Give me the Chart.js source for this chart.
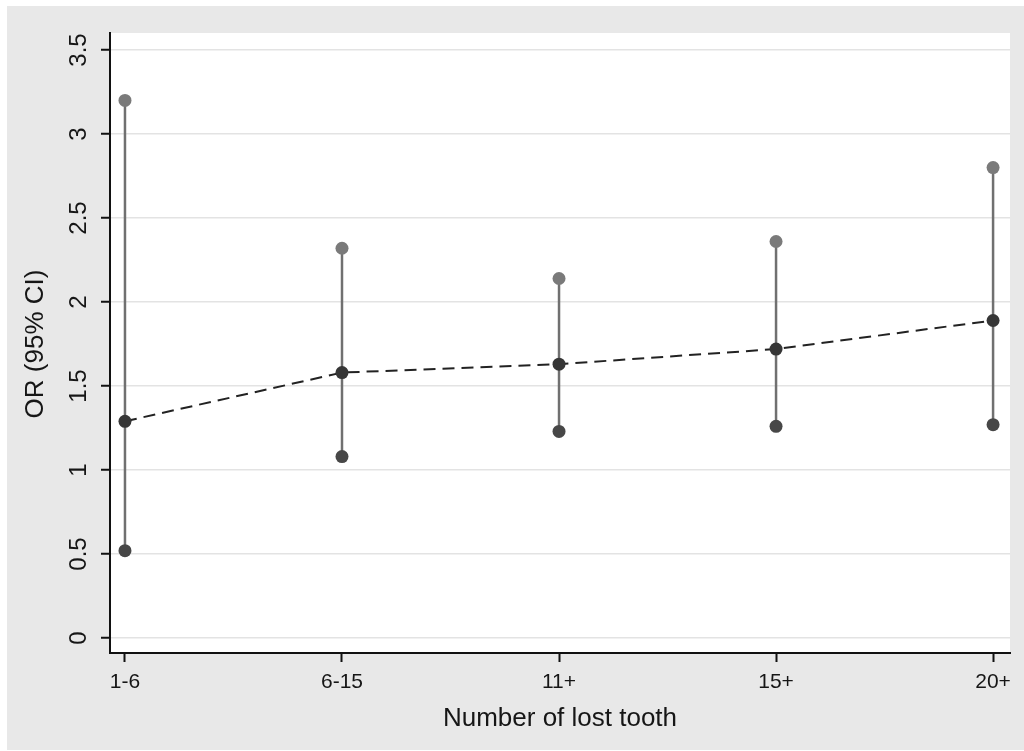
<!DOCTYPE html>
<html>
<head>
<meta charset="utf-8">
<script src="https://cdn.jsdelivr.net/npm/chart.js@4.4.1/dist/chart.umd.min.js"></script>
<style>
  html, body { margin: 0; padding: 0; background: #ffffff; }
  #wrap { width: 1024px; height: 751px; position: relative; }
</style>
</head>
<body>
<div id="wrap"><canvas id="orChart" width="1024" height="751"></canvas></div>
<script>
// --- data ---
const categories = ["1-6", "6-15", "11+", "15+", "20+"];
const oddsRatio = [1.29, 1.58, 1.63, 1.72, 1.89];
const ciLower = [0.52, 1.08, 1.23, 1.26, 1.27];
const ciUpper = [3.20, 2.32, 2.14, 2.36, 2.80];
const yTicks = [0, 0.5, 1, 1.5, 2, 2.5, 3, 3.5];

const FONT = "'Liberation Sans', Arial, sans-serif";

// gray page frame + white plot panel
const backdrop = {
    id: "backdrop",
    beforeDraw(chart) {
        const { ctx, chartArea } = chart;
        ctx.save();
        ctx.fillStyle = "#e8e8e8";
        ctx.fillRect(7, 6, chart.width - 7, chart.height - 7);
        ctx.fillStyle = "#ffffff";
        ctx.fillRect(chartArea.left, chartArea.top, chartArea.right - chartArea.left, chartArea.bottom - chartArea.top);
        ctx.restore();
    }
};

// rotated y tick labels and both axis titles
const axisText = {
    id: "axisText",
    afterDraw(chart) {
        const { ctx, chartArea } = chart;
        const y = chart.scales.y;
        ctx.save();
        ctx.fillStyle = "#161616";
        ctx.textAlign = "center";
        ctx.textBaseline = "middle";
        ctx.font = "24px " + FONT;
        yTicks.forEach(v => {
            const py = y.getPixelForValue(v);
            ctx.save();
            ctx.translate(79, py);
            ctx.rotate(-Math.PI / 2);
            ctx.fillText(String(v), 0, 0);
            ctx.restore();
        });
        ctx.font = "26px " + FONT;
        ctx.save();
        ctx.translate(36, (y.getPixelForValue(0) + y.getPixelForValue(3.5)) / 2);
        ctx.rotate(-Math.PI / 2);
        ctx.fillText("OR (95% CI)", 0, 0);
        ctx.restore();
        ctx.fillText("Number of lost tooth", (chartArea.left + chartArea.right) / 2, 719);
        ctx.restore();
    }
};

// one short line per category for the 95% CI
const ciSets = categories.map((c, i) => ({
    label: c + " CI",
    data: [{ x: i, y: ciLower[i] }, { x: i, y: ciUpper[i] }],
    borderColor: "#707070",
    borderWidth: 2.5,
    pointRadius: 6.5,
    pointBackgroundColor: ["#474747", "#7a7a7a"],
    pointBorderWidth: 0,
    order: 2
}));

new Chart(document.getElementById("orChart"), {
    type: "line",
    data: {
        datasets: [
            {
                label: "OR",
                data: oddsRatio.map((v, i) => ({ x: i, y: v })),
                borderColor: "#222222",
                borderWidth: 2,
                borderDash: [12, 7],
                pointRadius: 6.5,
                pointBackgroundColor: "#363636",
                pointBorderWidth: 0,
                tension: 0,
                order: 1
            },
            ...ciSets
        ]
    },
    options: {
        responsive: false,
        animation: false,
        devicePixelRatio: 1,
        layout: { padding: { left: 0, top: 33, right: 14, bottom: 0 } },
        plugins: {
            legend: { display: false },
            tooltip: { enabled: false }
        },
        scales: {
            x: {
                type: "linear",
                min: -0.069,
                max: 4.078,
                afterBuildTicks: s => { s.ticks = categories.map((c, i) => ({ value: i })); },
                afterFit: s => { s.height = 98; },
                grid: {
                    drawOnChartArea: false,
                    drawTicks: true,
                    tickLength: 9,
                    tickColor: "#111111",
                    tickWidth: 2
                },
                border: { display: true, color: "#111111", width: 2 },
                ticks: {
                    color: "#161616",
                    padding: 8,
                    maxRotation: 0,
                    font: { family: FONT, size: 21 },
                    callback: v => categories[v]
                }
            },
            y: {
                type: "linear",
                min: -0.089,
                max: 3.601,
                afterBuildTicks: s => { s.ticks = yTicks.map(v => ({ value: v })); },
                afterFit: s => { s.width = 110; },
                grid: {
                    color: "#e3e3e3",
                    lineWidth: 1.5,
                    drawTicks: true,
                    tickLength: 9,
                    tickColor: "#111111",
                    tickWidth: 2
                },
                border: { display: true, color: "#111111", width: 2 },
                ticks: { display: false }
            }
        }
    },
    plugins: [backdrop, axisText]
});
</script>
</body>
</html>
